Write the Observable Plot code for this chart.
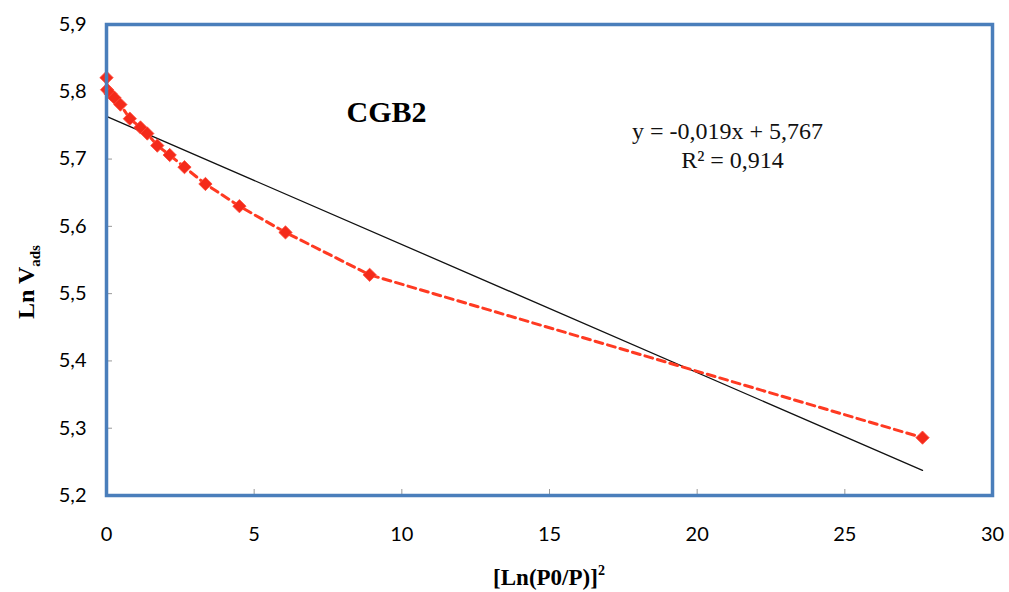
<!DOCTYPE html>
<html>
<head>
<meta charset="utf-8">
<script src="https://cdn.jsdelivr.net/npm/d3@7"></script>
<script src="https://cdn.jsdelivr.net/npm/@observablehq/plot@0.6"></script>
<style>
  html, body { margin: 0; padding: 0; background: #fff; }
</style>
</head>
<body>
<div id="chart"></div>
<script>
// Data
const xValues = [0, 0.02, 0.135, 0.27, 0.47, 0.79, 1.15, 1.38, 1.72, 2.14, 2.64, 3.35, 4.50, 6.06, 8.91, 27.63];
const yValues = [5.821, 5.803, 5.797, 5.791, 5.781, 5.760, 5.747, 5.738, 5.720, 5.706, 5.688, 5.663, 5.630, 5.591, 5.528, 5.286];
const xTicks = [0, 5, 10, 15, 20, 25, 30];
const yTicks = [5.2, 5.3, 5.4, 5.5, 5.6, 5.7, 5.8, 5.9];
const seriesName = "CGB2";
const equationLines = ["y = -0,019x + 5,767", "R² = 0,914"];

const data = xValues.map((x, i) => ({x, y: yValues[i]}));
const comma = d => String(d).replace(".", ",");

const chart = Plot.plot({
  width: 1009,
  height: 592,
  marginLeft: 106,
  marginRight: 17,
  marginTop: 24,
  marginBottom: 97,
  style: {fontFamily: "Lato, 'Open Sans', sans-serif", background: "#fff", color: "#000"},
  x: {domain: [0, 30]},
  y: {domain: [5.2, 5.9]},
  marks: [
    Plot.axisY({ticks: yTicks, tickFormat: comma, tickSize: -6, tickPadding: 26, fontSize: 20, stroke: "#999", fill: "#000", label: null}),
    Plot.axisX({ticks: xTicks, tickFormat: comma, tickSize: -6, tickPadding: 37, fontSize: 20, stroke: "#999", fill: "#000", label: null}),
    Plot.linearRegressionY(data, {x: "x", y: "y", stroke: "#111", strokeWidth: 1.3, ci: 0}),
    Plot.line(data, {x: "x", y: "y", stroke: "#ff3a22", strokeWidth: 3, strokeDasharray: "8,5"}),
    Plot.dot(data, {x: "x", y: "y", symbol: "diamond2", r: 6, fill: "#f42a1a", stroke: "#ff4a3a", strokeWidth: 0.8}),
    Plot.text([seriesName], {frameAnchor: "top-left", dx: 280, dy: 76, text: d => d, fontFamily: "'Liberation Serif', serif", fontWeight: "bold", fontSize: 30, fill: "#000", textAnchor: "middle"}),
    Plot.text([equationLines[0]], {frameAnchor: "top-left", dx: 621, dy: 97, text: d => d, fontFamily: "'Liberation Serif', serif", fontSize: 24, fill: "#111", textAnchor: "middle"}),
    Plot.text([equationLines[1]], {frameAnchor: "top-left", dx: 626, dy: 126, text: d => d, fontFamily: "'Liberation Serif', serif", fontSize: 24, fill: "#111", textAnchor: "middle"}),
    Plot.frame({stroke: "#4a7ebb", strokeWidth: 3.5})
  ]
});

const svg = d3.select(chart);
// Y axis title with subscript
const yt = svg.append("text")
  .attr("transform", "translate(34,282) rotate(-90)")
  .attr("text-anchor", "middle")
  .attr("font-family", "'Liberation Serif', serif")
  .attr("font-weight", "bold")
  .attr("font-size", 24)
  .attr("fill", "#000");
yt.append("tspan").text("Ln V");
yt.append("tspan").attr("font-size", 15).attr("dy", 6).text("ads");

// X axis title with superscript
const xt = svg.append("text")
  .attr("x", 549)
  .attr("y", 585)
  .attr("text-anchor", "middle")
  .attr("font-family", "'Liberation Serif', serif")
  .attr("font-weight", "bold")
  .attr("font-size", 23)
  .attr("fill", "#000");
xt.append("tspan").text("[Ln(P0/P)]");
xt.append("tspan").attr("font-size", 14).attr("dy", -10).text("2");

document.getElementById("chart").appendChild(chart);
</script>
</body>
</html>
